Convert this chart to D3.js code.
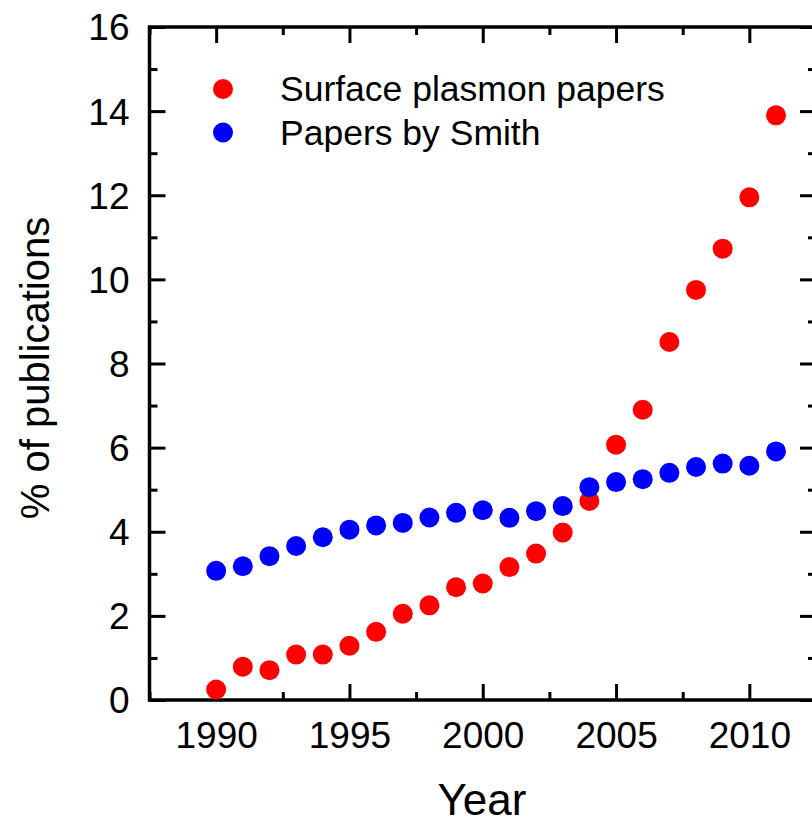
<!DOCTYPE html>
<html>
<head>
<meta charset="utf-8">
<script src="https://cdn.jsdelivr.net/npm/d3@7"></script>
<style>
  body { margin: 0; background: #fff; }
  svg { display: block; font-family: "Liberation Sans", Arial, sans-serif; }
  .domain { display: none; }
</style>
</head>
<body>
<svg width="812" height="824"></svg>
<script>
// données
const annees = [1990, 1991, 1992, 1993, 1994, 1995, 1996, 1997, 1998, 1999, 2000,
                2001, 2002, 2003, 2004, 2005, 2006, 2007, 2008, 2009, 2010, 2011];
const plasmon = [0.25, 0.79, 0.71, 1.08, 1.08, 1.29, 1.62, 2.05, 2.25, 2.68, 2.77,
                 3.16, 3.48, 3.98, 4.73, 6.07, 6.90, 8.51, 9.75, 10.73, 11.95, 13.90];
const smith = [3.07, 3.18, 3.42, 3.66, 3.87, 4.05, 4.15, 4.21, 4.34, 4.45, 4.51,
               4.33, 4.49, 4.61, 5.06, 5.18, 5.25, 5.40, 5.54, 5.62, 5.57, 5.91];
const series = ['Surface plasmon papers', 'Papers by Smith'];
const couleurs = ['#ff0000', '#0000ff'];
const xMajeurs = [1990, 1995, 2000, 2005, 2010];
const xMineurs = [1987.5, 1992.5, 1997.5, 2002.5, 2007.5, 2012.5];
const yMajeurs = [0, 2, 4, 6, 8, 10, 12, 14, 16];
const yMineurs = [1, 3, 5, 7, 9, 11, 13, 15];

const svg = d3.select('svg');
const gauche = 149.5, droite = 816, haut = 27, bas = 700;

const x = d3.scaleLinear().domain([1987.5, 2012.5]).range([gauche, droite]);
const y = d3.scaleLinear().domain([0, 16]).range([bas, haut]);

// axes avec graduations vers l'intérieur
function axe(g, gen, valeurs, taille, etiquettes) {
  g.call(gen.tickValues(valeurs).tickSize(-taille).tickSizeOuter(0)
    .tickFormat(etiquettes ? d3.format('d') : ''));
  g.selectAll('.tick line').attr('stroke', '#000').attr('stroke-width', 3);
  g.selectAll('.tick text').attr('fill', '#000').style('font-size', '37px');
}

const gB = svg.append('g').attr('transform', `translate(0,${bas})`);
axe(gB, d3.axisBottom(x), xMajeurs, 16, true);
gB.selectAll('.tick text').attr('y', 48).attr('dy', 0);
axe(svg.append('g').attr('transform', `translate(0,${bas})`), d3.axisBottom(x), xMineurs, 8, false);

axe(svg.append('g').attr('transform', `translate(0,${haut})`), d3.axisTop(x), xMajeurs, 16, false);
axe(svg.append('g').attr('transform', `translate(0,${haut})`), d3.axisTop(x), xMineurs, 8, false);

const gG = svg.append('g').attr('transform', `translate(${gauche},0)`);
axe(gG, d3.axisLeft(y), yMajeurs, 16, true);
gG.selectAll('.tick text').attr('x', -20).attr('dy', '0.35em');
axe(svg.append('g').attr('transform', `translate(${gauche},0)`), d3.axisLeft(y), yMineurs, 8, false);

axe(svg.append('g').attr('transform', `translate(${droite},0)`), d3.axisRight(y), yMajeurs, 16, false);
axe(svg.append('g').attr('transform', `translate(${droite},0)`), d3.axisRight(y), yMineurs, 8, false);

// cadre
svg.append('rect')
  .attr('x', gauche).attr('y', haut)
  .attr('width', droite - gauche).attr('height', bas - haut)
  .attr('fill', 'none').attr('stroke', '#000').attr('stroke-width', 3.5);

// points
[plasmon, smith].forEach((valeurs, i) => {
  svg.append('g').selectAll('circle')
    .data(valeurs)
    .join('circle')
    .attr('cx', (d, j) => x(annees[j]))
    .attr('cy', d => y(d))
    .attr('r', 10)
    .attr('fill', couleurs[i]);
});

// légende
const leg = svg.append('g');
series.forEach((nom, i) => {
  const cy = 89 + i * 43.5;
  leg.append('circle').attr('cx', 223).attr('cy', cy).attr('r', 10).attr('fill', couleurs[i]);
  leg.append('text').attr('x', 280).attr('y', cy).attr('dy', '0.35em')
    .style('font-size', '35.5px').text(nom);
});

// titres des axes
svg.append('text')
  .attr('x', 482).attr('y', 815)
  .attr('text-anchor', 'middle').style('font-size', '44px').text('Year');
svg.append('text')
  .attr('transform', 'translate(49,368) rotate(-90)')
  .attr('text-anchor', 'middle').style('font-size', '40px').text('% of publications');
</script>
</body>
</html>
